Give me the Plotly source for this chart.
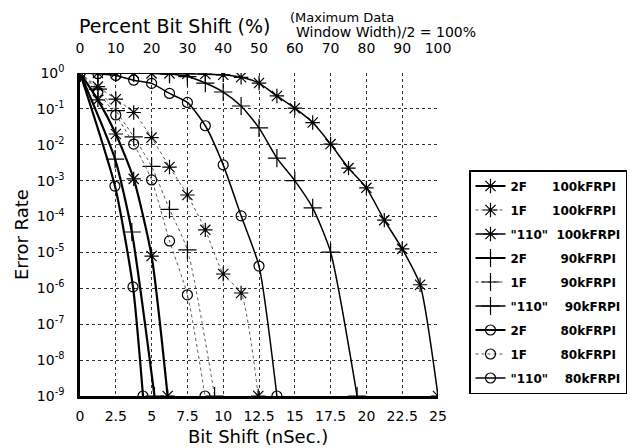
import plotly.graph_objects as go

NB = "\u00a0"

# ---- data: x = bit shift (nSec), e = log10(error rate) ----
# 100 kFRPI
x_2f_100 = [0, 1.25, 2.5, 3.75, 5.0, 6.12]
e_2f_100 = [0, -0.75, -1.7, -2.95, -5.1, -9]
x_1f_100 = [0, 1.25, 2.5, 3.75, 5.0, 6.25, 7.5, 8.75, 10.0, 11.25, 12.45]
e_1f_100 = [0, -0.38, -0.73, -1.1, -1.8, -2.62, -3.4, -4.37, -5.6, -6.13, -9]
x_110_100 = [0, 1.25, 2.5, 3.75, 5.0, 6.25, 7.5, 8.75, 10.0, 11.25, 12.5,
             13.75, 15.0, 16.25, 17.5, 18.75, 20.0, 21.25, 22.5, 23.75, 25.0]
e_110_100 = [0, 0, 0, 0, -0.01, -0.01, -0.02, -0.03, -0.05, -0.12, -0.28,
             -0.64, -0.98, -1.38, -1.98, -2.65, -3.2, -4.1, -4.9, -5.9, -9]
# 90 kFRPI
x_2f_90 = [0, 2.45, 3.62, 5.2]
e_2f_90 = [0, -2.4, -4.43, -9]
x_1f_90 = [0, 1.25, 2.5, 3.75, 5.0, 6.25, 7.5, 9.4]
e_1f_90 = [0, -0.45, -1.05, -1.78, -2.6, -3.8, -4.93, -9]
x_110_90 = [0, 1.25, 2.5, 3.75, 5.0, 6.25, 7.5, 8.75, 10.0, 11.25, 12.5,
            13.75, 15.0, 16.25, 17.5, 19.35]
e_110_90 = [0, 0, 0, 0, -0.01, -0.03, -0.1, -0.28, -0.53, -0.92, -1.53,
            -2.37, -3.0, -3.76, -4.99, -9]
# 80 kFRPI
x_2f_80 = [0, 2.44, 3.7, 4.4]
e_2f_80 = [0, -3.15, -5.96, -9]
x_1f_80 = [0, 1.25, 2.5, 3.75, 5.0, 6.25, 7.5, 8.73]
e_1f_80 = [0, -0.53, -1.17, -1.98, -2.98, -4.68, -6.18, -9]
x_110_80 = [0, 1.25, 2.5, 3.75, 5.0, 6.25, 7.5, 8.75, 10.0, 11.25, 12.5, 13.75]
e_110_80 = [0, -0.02, -0.07, -0.2, -0.29, -0.57, -0.82, -1.47, -2.56, -3.98, -5.38, -9]

x_ticks = [0, 2.5, 5, 7.5, 10, 12.5, 15, 17.5, 20, 22.5, 25]
x_tick_text = ["0", "2.5", "5", "7.5", "10", "12.5", "15", "17.5", "20", "22.5", "25"]
pct_ticks = [0, 10, 20, 30, 40, 50, 60, 70, 80, 90, 100]
y_exps = [0, -1, -2, -3, -4, -5, -6, -7, -8, -9]

legend_names = [
    "2F" + NB * 6 + "100kFRPI",
    "1F" + NB * 6 + "100kFRPI",
    '"110"' + NB * 2 + "100kFRPI",
    "2F" + NB * 8 + "90kFRPI",
    "1F" + NB * 8 + "90kFRPI",
    '"110"' + NB * 4 + "90kFRPI",
    "2F" + NB * 8 + "80kFRPI",
    "1F" + NB * 8 + "80kFRPI",
    '"110"' + NB * 4 + "80kFRPI",
]

series = [
    (x_2f_100, e_2f_100, "2F", "asterisk-open"),
    (x_1f_100, e_1f_100, "1F", "asterisk-open"),
    (x_110_100, e_110_100, "110", "asterisk-open"),
    (x_2f_90, e_2f_90, "2F", "cross-thin-open"),
    (x_1f_90, e_1f_90, "1F", "cross-thin-open"),
    (x_110_90, e_110_90, "110", "cross-thin-open"),
    (x_2f_80, e_2f_80, "2F", "circle-open"),
    (x_1f_80, e_1f_80, "1F", "circle-open"),
    (x_110_80, e_110_80, "110", "circle-open"),
]

line_styles = {
    "2F": dict(color="black", width=2.2, dash="solid"),
    "1F": dict(color="#555555", width=1, dash="dot"),
    "110": dict(color="black", width=1.5, dash="solid"),
}
marker_sizes = {"asterisk-open": 12, "cross-thin-open": 13, "circle-open": 10}

fig = go.Figure()
for i, ((xs, es, kind, sym), name) in enumerate(zip(series, legend_names)):
    fig.add_trace(go.Scatter(
        x=xs, y=[10 ** e for e in es], name=name,
        mode="lines+markers", legendgroup=f"g{i}",
        line=dict(shape="spline", smoothing=0.6, **line_styles[kind]),
        marker=dict(symbol=sym, size=marker_sizes[sym], color="black",
                    line=dict(color="black", width=1.2)),
        hoverinfo="skip",
    ))

# invisible trace so the top percent axis is drawn
fig.add_trace(go.Scatter(x=pct_ticks, y=[1] * len(pct_ticks), xaxis="x2",
                         mode="markers", marker=dict(opacity=0),
                         showlegend=False, hoverinfo="skip"))

FONT = "DejaVu Sans"
OFF = 8  # page body margin in the browser
W, H = 644 - OFF, 448 - OFF
L, T = 80 - OFF, 73 - OFF
PW, PH = 358, 323
R, B = W - L - PW, H - T - PH


def px(x):
    return (x - OFF - L) / PW


def py(y):
    return (H - B - (y - OFF)) / PH


grid = dict(showgrid=True, gridcolor="#333333", gridwidth=1, griddash="dot")

fig.update_layout(
    width=W, height=H,
    margin=dict(l=L, r=R, t=T, b=B, autoexpand=False),
    paper_bgcolor="white", plot_bgcolor="white",
    font=dict(family=FONT, color="black"),
    xaxis=dict(range=[0, 25], tickvals=x_ticks, ticktext=x_tick_text,
               showline=True, linecolor="black", linewidth=2.5, ticks="",
               zeroline=False, tickfont=dict(size=14), ticklabelstandoff=5,
               automargin=False, **grid),
    xaxis2=dict(overlaying="x", side="top", range=[0, 100], tickvals=pct_ticks,
                showgrid=False, showline=False, zeroline=False, ticks="",
                tickfont=dict(size=14), ticklabelstandoff=16, automargin=False),
    yaxis=dict(type="log", range=[-9, 0],
               tickvals=[10 ** e for e in y_exps],
               ticktext=[f"10<sup>{e}</sup>" for e in y_exps],
               showline=True, linecolor="black", linewidth=2.5, ticks="",
               zeroline=False, tickfont=dict(size=14), ticklabelstandoff=10,
               automargin=False, **grid),
    legend=dict(x=px(469), y=py(170), xanchor="left", yanchor="top",
                bordercolor="black", borderwidth=1.5, bgcolor="white",
                font=dict(family=FONT, size=12, weight="bold"),
                tracegroupgap=5, traceorder="grouped"),
    showlegend=True,
    annotations=[
        dict(text="Percent Bit Shift (%)", x=px(174), y=py(26), xref="paper",
             yref="paper", xanchor="center", yanchor="middle", showarrow=False,
             font=dict(size=19)),
        dict(text="(Maximum Data", x=px(288), y=py(17), xref="paper",
             yref="paper", xanchor="left", yanchor="middle", showarrow=False,
             font=dict(size=13)),
        dict(text="Window Width)/2 = 100%", x=px(294), y=py(32), xref="paper",
             yref="paper", xanchor="left", yanchor="middle", showarrow=False,
             font=dict(size=14)),
        dict(text="Error Rate", x=px(21), y=py(235), xref="paper",
             yref="paper", xanchor="center", yanchor="middle", showarrow=False,
             textangle=-90, font=dict(size=18)),
        dict(text="Bit Shift (nSec.)", x=px(258), y=py(436), xref="paper",
             yref="paper", xanchor="center", yanchor="middle", showarrow=False,
             font=dict(size=18)),
    ],
)

fig.write_html("out.html")
